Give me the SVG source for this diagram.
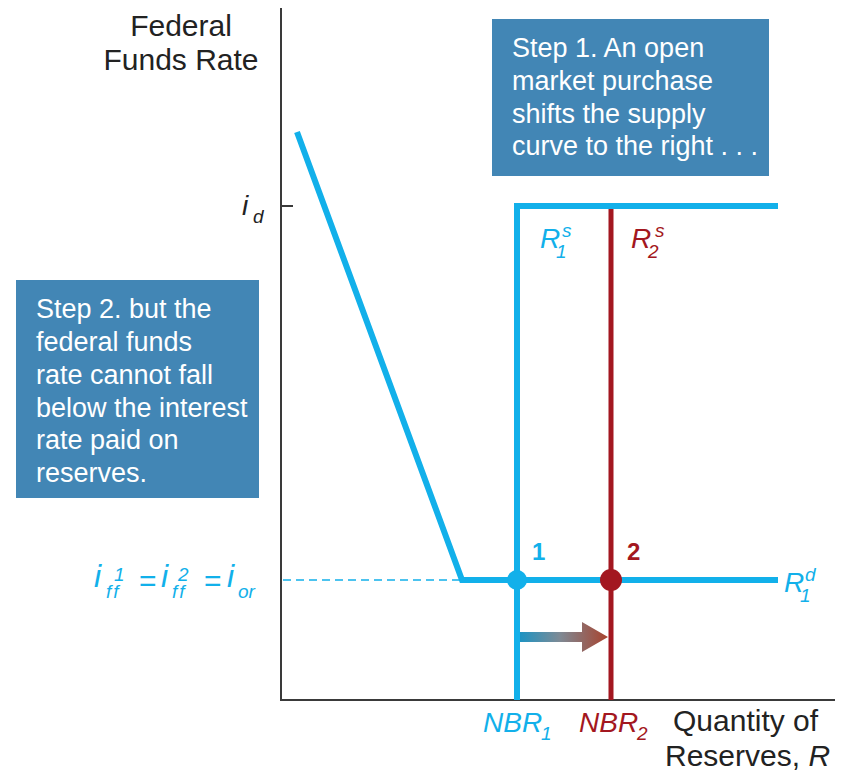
<svg xmlns="http://www.w3.org/2000/svg" width="845" height="776" viewBox="0 0 845 776">
<defs>
<style>
text{font-family:"Liberation Sans",Arial,sans-serif;}
.box{fill:#4286B5;}
.bt{fill:#fff;font-size:27px;}
.ax{stroke:#3a3a3a;stroke-width:2;fill:none;}
.blue{stroke:#12B0EA;stroke-width:6;fill:none;}
.red{stroke:#A31720;stroke-width:5;fill:none;}
.lb{font-size:30px;fill:#222;}
.it{font-style:italic;}
.m{font-size:28px;font-style:italic;}
.bi{font-size:32px;font-style:italic;}
.s{font-size:19px;font-style:italic;}
.cb{fill:#12B0EA;}
.cr{fill:#A31720;}
</style>
<linearGradient id="g" x1="0" y1="0" x2="1" y2="0">
<stop offset="0" stop-color="#1E93C2"/>
<stop offset="0.45" stop-color="#7E8A95"/>
<stop offset="1" stop-color="#A8432E"/>
</linearGradient>
</defs>
<g id="axes">
<line class="ax" x1="281" y1="8" x2="281" y2="700"/>
<line class="ax" x1="280" y1="700" x2="835" y2="700"/>
<line class="ax" x1="281" y1="206" x2="293" y2="206"/>
</g>
<g id="connectors">
<line x1="283" y1="580" x2="462" y2="580" stroke="#12B0EA" stroke-width="1.5" stroke-dasharray="8,5"/>
<polyline id="demand" class="blue" points="297,132 462,580 778,580"/>
<polyline id="supply1" class="blue" points="517,700 517,206 778,206"/>
<line id="supply2" class="red" x1="611" y1="209" x2="611" y2="700"/>
<path id="shift-arrow" d="M520,632 H582 V622 L608,637 L582,652 V642 H520 Z" fill="url(#g)"/>
</g>
<g id="point1">
<circle class="cb" cx="517" cy="580" r="10"/>
<text x="532" y="560" font-size="24" font-weight="bold" class="cb">1</text>
</g>
<g id="point2">
<circle class="cr" cx="611" cy="580" r="11"/>
<text x="627" y="560" font-size="24" font-weight="bold" class="cr">2</text>
</g>
<g id="step1">
<rect class="box" x="492" y="19" width="277" height="157"/>
<text class="bt" x="512" y="57">Step 1. An open</text>
<text class="bt" x="512" y="90">market purchase</text>
<text class="bt" x="512" y="123">shifts the supply</text>
<text class="bt" x="512" y="155">curve to the right . . .</text>
</g>
<g id="step2">
<rect class="box" x="16" y="280" width="243" height="218"/>
<text class="bt" x="36" y="318">Step 2. but the</text>
<text class="bt" x="36" y="351">federal funds</text>
<text class="bt" x="36" y="384">rate cannot fall</text>
<text class="bt" x="36" y="417">below the interest</text>
<text class="bt" x="36" y="449">rate paid on</text>
<text class="bt" x="36" y="482">reserves.</text>
</g>
<g id="labels">
<text class="lb" x="181" y="36" text-anchor="middle">Federal</text>
<text class="lb" x="181" y="70" text-anchor="middle">Funds Rate</text>
<g id="label-id" fill="#222">
<text class="m" x="242" y="215">i</text>
<text class="s" x="253" y="223">d</text>
</g>
<g id="label-iff" class="cb">
<text class="bi" x="94" y="587">i</text>
<text class="s" x="106" y="598" letter-spacing="2">ff</text>
<text class="s" x="114" y="581">1</text>
<text x="139" y="591" font-size="30">=</text>
<text class="bi" x="161" y="587">i</text>
<text class="s" x="172" y="598" letter-spacing="2">ff</text>
<text class="s" x="178" y="581">2</text>
<text x="204" y="591" font-size="30">=</text>
<text class="bi" x="227" y="587">i</text>
<text class="s" x="238" y="598">or</text>
</g>
<g id="label-r1s" class="cb">
<text class="m" x="540" y="248">R</text>
<text class="s" x="556" y="258">1</text>
<text class="s" x="562" y="237">s</text>
</g>
<g id="label-r2s" class="cr">
<text class="m" x="631" y="248">R</text>
<text class="s" x="648" y="258">2</text>
<text class="s" x="655" y="237">s</text>
</g>
<g id="label-r1d" class="cb">
<text class="m" x="784" y="592">R</text>
<text class="s" x="800" y="602">1</text>
<text class="s" x="805" y="581">d</text>
</g>
<g id="label-nbr1" class="cb">
<text class="m" x="483" y="732" font-size="27">NBR</text>
<text class="s" x="541" y="740">1</text>
</g>
<g id="label-nbr2" class="cr">
<text class="m" x="579" y="732" font-size="27">NBR</text>
<text class="s" x="637" y="740">2</text>
</g>
<text class="lb" x="673" y="731">Quantity of</text>
<text class="lb" x="665" y="766">Reserves, <tspan class="it">R</tspan></text>
</g>
</svg>
